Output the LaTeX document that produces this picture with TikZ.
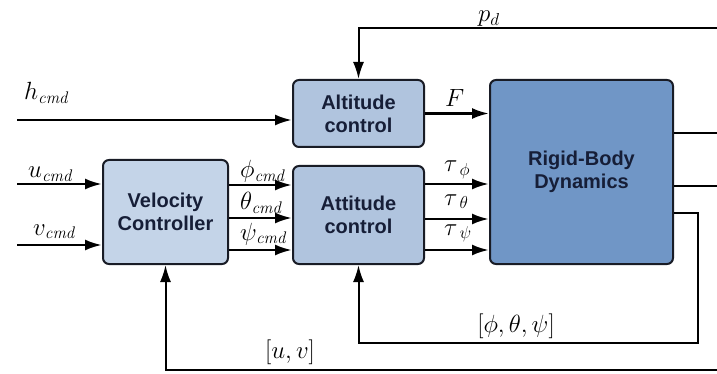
\documentclass[tikz,border=0pt]{standalone}
\usepackage{fontspec}
\setsansfont{Liberation Sans}
\usepackage{tikz}
\usetikzlibrary{arrows.meta,positioning,calc}
\definecolor{lightblk}{RGB}{196,212,232}
\definecolor{midblk}{RGB}{176,196,222}
\definecolor{darkblk}{RGB}{112,150,198}
\definecolor{edge}{RGB}{25,28,38}
\definecolor{ink}{RGB}{22,30,55}
\begin{document}
\begin{tikzpicture}[
  x=1pt,y=-1pt,
  every node/.style={font=\fontsize{24}{27}\selectfont},
  block/.style={draw=edge,line width=2pt,rounded corners=6pt,inner sep=0pt,align=center,
    font=\sffamily\bfseries\fontsize{20}{23}\selectfont,text=ink},
  sig/.style={line width=2.6pt,-{Latex[length=17pt,width=11pt]}},
  line/.style={line width=2pt},
  lbl/.style={anchor=base west,inner sep=0pt},
]
  \useasboundingbox (0,0) rectangle (717,374);
  % blocks
  \node[block,fill=midblk,minimum width=131pt,minimum height=67pt] (alt) at (358.5,113.5) {Altitude\\control};
  \node[block,fill=midblk,minimum width=131pt,minimum height=98pt] (att) at (358.5,215) {Attitude\\control};
  \node[block,fill=lightblk,minimum width=125pt,minimum height=104pt] (vel) at (165.5,212) {Velocity\\Controller};
  \node[block,fill=darkblk,minimum width=183pt,minimum height=184pt] (rig) at (581.5,172) {Rigid-Body\\Dynamics};
  % inputs
  \coordinate (hin) at (17,120);
  \coordinate (uin) at (17,184);
  \coordinate (vin) at (17,245);
  \draw[sig] (hin) -- (hin -| alt.west);
  \draw[sig] (uin) -- (uin -| vel.west);
  \draw[sig] (vin) -- (vin -| vel.west);
  \node[lbl] at (24,100) {$h_{\mathit{cmd}}$};
  \node[lbl] at (28,178) {$u_{\mathit{cmd}}$};
  \node[lbl] at (33,235) {$v_{\mathit{cmd}}$};
  % angle commands
  \foreach \y in {185,218,250}{
    \draw[sig] (vel.east |- 0,\y) -- (att.west |- 0,\y);
  }
  \node[lbl] at (240,178) {$\phi_{\mathit{cmd}}$};
  \node[lbl] at (240,210) {$\theta_{\mathit{cmd}}$};
  \node[lbl] at (240,240) {$\psi_{\mathit{cmd}}$};
  % thrust and torques
  \draw[sig] (alt.east) -- (alt.east -| rig.west);
  \node[lbl] at (445,107) {$F$};
  \foreach \y in {184,219,250}{
    \draw[sig] (att.east |- 0,\y) -- (rig.west |- 0,\y);
  }
  \node[lbl] at (444,172) {$\tau_{\;\phi}$};
  \node[lbl] at (444,205) {$\tau_{\;\theta}$};
  \node[lbl] at (444,235) {$\tau_{\;\psi}$};
  % outputs
  \coordinate (outa) at (717,133);
  \coordinate (outb) at (717,186);
  \draw[line] (rig.east |- outa) -- (outa);
  \draw[line] (rig.east |- outb) -- (outb);
  % feedback loops
  \coordinate (fba) at (698,213);
  \coordinate (fbb) at (698,343);
  \draw[line,-{Latex[length=17pt,width=11pt]}] (rig.east |- fba) -- (fba) -- (fbb) -- (fbb -| att.south) -- (att.south);
  \node at (516,326) {$[\phi,\theta,\psi]$};
  \coordinate (fbc) at (717,370);
  \draw[line,-{Latex[length=17pt,width=11pt]}] (fbc) -- (fbc -| vel.south) -- (vel.south);
  \node at (290,352) {$[u,v]$};
  \coordinate (pd) at (717,28);
  \draw[line,-{Latex[length=17pt,width=11pt]}] (pd) -- (pd -| alt.north) -- (alt.north);
  \node[lbl] at (478,22) {$p_d$};
\end{tikzpicture}
\end{document}
